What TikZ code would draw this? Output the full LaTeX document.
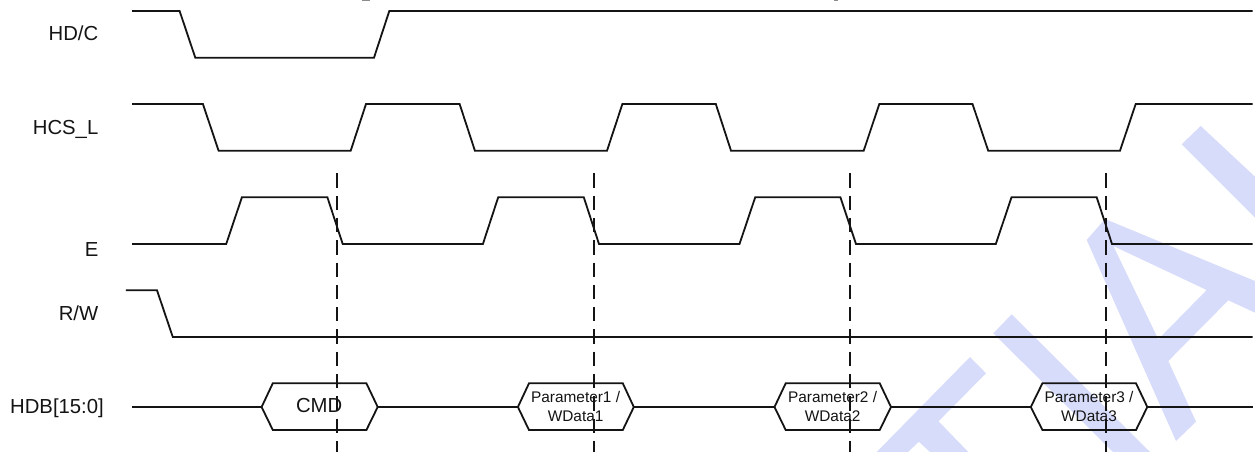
\documentclass[tikz,border=0pt]{standalone}
\usepackage{fontspec}
\setmainfont{Liberation Sans}
\tikzset{
  wave/.style={line width=1.8pt,line join=miter,black!92},
  guide/.style={line width=1.8pt,black!92,dash pattern=on 14.3pt off 8pt},
  wmark/.style={fill=wmcol,draw=none,even odd rule},
  siglabel/.style={anchor=base east,inner sep=0pt,font=\fontsize{20.3}{24}\selectfont,text=black!92},
  cmdlabel/.style={anchor=center,inner sep=0pt,font=\fontsize{20.3}{24}\selectfont,text=black!92},
  parlabel/.style={anchor=center,inner sep=0pt,align=center,font=\fontsize{15.4}{19}\selectfont,text=black!92},
  stub/.style={line width=1.2pt,black!45}
}
\definecolor{wmcol}{HTML}{D8DCFB}
\begin{document}
\begin{tikzpicture}[x=1pt,y=-1pt]
\fill[white] (0,0) rectangle (1255,452);
\useasboundingbox (0,0) rectangle (1255,452);

% watermark
\fill[wmark] (1200.7,126)--(1181.7,144.3)--(1255,217.7)--(1255,176.7)--cycle;
\fill[wmark] (1105,219)--(1255,281)--(1255,312.7)--(1228.3,300.3)--(1168.3,361)--(1196,421.7)--(1176,441)--(1086.7,240)--cycle
  (1113.3,246)--(1206.7,290)--(1158.3,339.3)--cycle;
\fill[wmark] (1011.7,314.3)--(993.3,333.3)--(1113,452)--(1150,452)--cycle;
\fill[wmark] (970,357)--(986,373.3)--(938.5,421.3)--(968.3,452)--(930,452)--(918.8,441.7)--(908,452)--(876.7,452)--cycle;

% remains of the cropped title
\draw[stub] (362,0.5)--(370,0.5);
\draw[stub] (834,0.5)--(838,0.5);

% labels
\node[siglabel] (lhdc) at (98.5,41) {HD/C};
\node[siglabel] (lhcs) at (98.5,134) {HCS\_L};
\node[siglabel] (le) at (98.5,256.5) {E};
\node[siglabel] (lrw) at (98.5,320.5) {R/W};
\node[siglabel] (lhdb) at (104,413.5) {HDB[15:0]};

% waveforms
\draw[wave] (132,11)--(179.6,11)--(195.3,57.7)--(374,57.7)--(389.3,11)--(1252.6,11);
\draw[wave] (132,104)--(202.9,104)--(218.6,150.7)--(350.7,150.7)--(366,104)--(459.6,104)--(474.9,150.7)--(607,150.7)--(622.4,104)--(715.8,104)--(731,150.7)--(863.7,150.7)--(879.3,104)--(972.5,104)--(988.2,150.7)--(1120,150.7)--(1135.7,104)--(1252.6,104);
\draw[wave] (132,244)--(226.2,244)--(241.9,197.3)--(327.4,197.3)--(342.7,244)--(482.9,244)--(498.2,197.3)--(583.8,197.3)--(599,244)--(739.5,244)--(755.2,197.3)--(840.4,197.3)--(856,244)--(995.8,244)--(1011.5,197.3)--(1096.7,197.3)--(1112,244)--(1252.6,244);
\draw[wave] (125.8,290.3)--(157,290.3)--(172.8,337)--(1252.6,337);

% bus
\coordinate (busS) at (132,407);
\coordinate (busE) at (1252.6,407);
\coordinate (cmdL) at (261.6,407);
\coordinate (cmdR) at (377.7,407);
\coordinate (p1L) at (517.9,407);
\coordinate (p1R) at (633.8,407);
\coordinate (p2L) at (774.5,407);
\coordinate (p2R) at (891,407);
\coordinate (p3L) at (1030.8,407);
\coordinate (p3R) at (1147.3,407);
\draw[wave] (busS)--(cmdL);
\draw[wave] (cmdR)--(p1L);
\draw[wave] (p1R)--(p2L);
\draw[wave] (p2R)--(p3L);
\draw[wave] (p3R)--(busE);
\draw[wave] (cmdL)--(272.8,383.3)--(366.4,383.3)--(cmdR)--(366.4,430)--(272.8,430)--cycle;
\draw[wave] (p1L)--(529,383.3)--(622.8,383.3)--(p1R)--(622.8,430)--(529,430)--cycle;
\draw[wave] (p2L)--(785.7,383.3)--(879.7,383.3)--(p2R)--(879.7,430)--(785.7,430)--cycle;
\draw[wave] (p3L)--(1042.4,383.3)--(1136,383.3)--(p3R)--(1136,430)--(1042.4,430)--cycle;

\node[cmdlabel] (cmd) at (319.2,406) {CMD};
\node[parlabel] (p1) at (575.6,406.6) {Parameter1 /\\WData1};
\node[parlabel] (p2) at (832.6,406.6) {Parameter2 /\\WData2};
\node[parlabel] (p3) at (1089,406.6) {Parameter3 /\\WData3};

% guides
\draw[guide] (336.7,173.3)--(336.7,452);
\draw[guide] (593.7,173.3)--(593.7,452);
\draw[guide] (850,173.3)--(850,452);
\draw[guide] (1106.3,173.3)--(1106.3,452);
\end{tikzpicture}
\end{document}
